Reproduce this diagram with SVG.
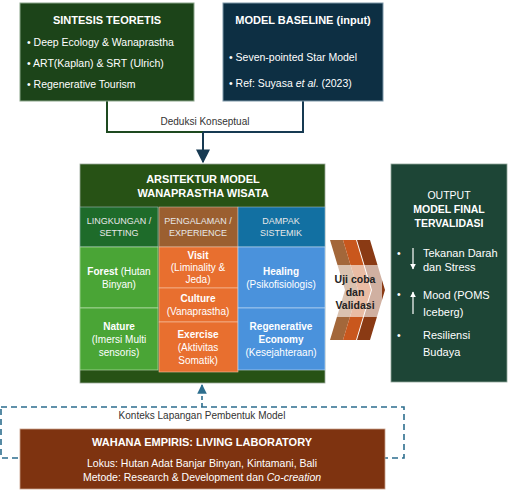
<svg xmlns="http://www.w3.org/2000/svg" width="513" height="490" viewBox="0 0 513 490">
<defs>
<style>
text{font-family:"Liberation Sans",Arial,sans-serif;}
.t{font-size:11px;font-weight:bold;fill:#fff;}
.b{font-size:10.5px;fill:#fff;}
.h{font-size:9px;fill:#e8e8e8;}
.c{font-size:10px;fill:#fff;text-anchor:middle;}
.cb{font-size:10px;fill:#fff;text-anchor:middle;font-weight:bold;}
.lbl{font-size:10px;fill:#333;text-anchor:middle;}
.o{font-size:11px;fill:#fff;}
.u{font-size:10.5px;font-weight:bold;fill:#222;text-anchor:middle;}
</style>
<marker id="ah" viewBox="0 0 10 10" refX="9" refY="5" markerWidth="7" markerHeight="7" orient="auto"><path d="M0,0 L10,5 L0,10 z" fill="#173a52"/></marker>
<marker id="ahd" viewBox="0 0 10 10" refX="9" refY="5" markerWidth="6" markerHeight="6" orient="auto"><path d="M0,0 L10,5 L0,10 z" fill="#2d6e8e"/></marker>
<marker id="wa" viewBox="0 0 10 10" refX="9" refY="5" markerWidth="5" markerHeight="5" orient="auto"><path d="M0,0 L10,5 L0,10 z" fill="#fff"/></marker>
</defs>
<rect width="513" height="490" fill="#fff"/>

<g id="connectors">
<polyline points="107,101 107,132 203,132" fill="none" stroke="#1e4a20" stroke-width="2"/>
<polyline points="203,132 303,132 303,101" fill="none" stroke="#173a52" stroke-width="2"/>
<line x1="203" y1="132" x2="203" y2="162" stroke="#173a52" stroke-width="2" marker-end="url(#ah)"/>
<text class="lbl" x="205" y="125">Deduksi Konseptual</text>
<rect x="1" y="407" width="403" height="51" fill="none" stroke="#2d6e8e" stroke-width="1.6" stroke-dasharray="6,4"/>
<line x1="202" y1="407" x2="202" y2="385" stroke="#2d6e8e" stroke-width="1.6" stroke-dasharray="4,3" marker-end="url(#ahd)"/>
<text class="lbl" x="202" y="419">Konteks Lapangan Pembentuk Model</text>
</g>

<g id="sintesis">
<rect x="20" y="3" width="174" height="98" fill="#1c4419" stroke="#8aa58a" stroke-width="1"/>
<text class="t" x="107" y="24" text-anchor="middle">SINTESIS TEORETIS</text>
<text class="b" x="27" y="46">•  Deep Ecology &amp; Wanaprastha</text>
<text class="b" x="27" y="67">•  ART(Kaplan)  &amp; SRT (Ulrich)</text>
<text class="b" x="27" y="88">•  Regenerative Tourism</text>
</g>

<g id="baseline">
<rect x="223" y="3" width="160" height="98" fill="#0d2f43" stroke="#7d97a8" stroke-width="1"/>
<text class="t" x="303" y="24" text-anchor="middle">MODEL BASELINE (input)</text>
<text class="b" x="229" y="61">•  Seven-pointed Star Model</text>
<text class="b" x="229" y="87">•  Ref: Suyasa <tspan font-style="italic">et al</tspan>. (2023)</text>
</g>

<g id="arsitektur">
<rect x="80" y="164" width="245" height="219" fill="#275215" stroke="#9aa89a" stroke-width="0.8"/>
<text class="t" x="203" y="183" text-anchor="middle">ARSITEKTUR MODEL</text>
<text class="t" x="203" y="197" text-anchor="middle">WANAPRASTHA WISATA</text>
<rect x="80" y="207" width="78" height="40" fill="#1e6b2a" stroke="#bcd" stroke-width="0.5"/>
<rect x="159" y="207" width="79" height="40" fill="#9b5f30" stroke="#dcb" stroke-width="0.5"/>
<rect x="238" y="207" width="87" height="40" fill="#1270a2" stroke="#bcd" stroke-width="0.5"/>
<text class="h" x="119" y="224" text-anchor="middle">LINGKUNGAN /</text>
<text class="h" x="119" y="236" text-anchor="middle">SETTING</text>
<text class="h" x="198" y="224" text-anchor="middle">PENGALAMAN /</text>
<text class="h" x="198" y="236" text-anchor="middle">EXPERIENCE</text>
<text class="h" x="281" y="224" text-anchor="middle">DAMPAK</text>
<text class="h" x="281" y="236" text-anchor="middle">SISTEMIK</text>
</g>

<g id="forest">
<rect x="80" y="247" width="78" height="61" fill="#4aa536" stroke="#c8e6c0" stroke-width="0.6"/>
<text class="c" x="119" y="275"><tspan font-weight="bold">Forest</tspan> (Hutan</text>
<text class="c" x="119" y="288">Binyan)</text>
</g>
<g id="nature">
<rect x="80" y="308" width="78" height="62" fill="#4aa536" stroke="#c8e6c0" stroke-width="0.6"/>
<text class="cb" x="119" y="330">Nature</text>
<text class="c" x="119" y="343">(Imersi Multi</text>
<text class="c" x="119" y="356">sensoris)</text>
</g>
<g id="visit">
<rect x="159" y="247" width="79" height="41" fill="#e86f2f" stroke="#f6c4a6" stroke-width="0.6"/>
<text class="cb" x="198" y="259">Visit</text>
<text class="c" x="198" y="271">(Liminality &amp;</text>
<text class="c" x="198" y="283">Jeda)</text>
</g>
<g id="culture">
<rect x="159" y="288" width="79" height="34" fill="#e86f2f" stroke="#f6c4a6" stroke-width="0.6"/>
<text class="cb" x="198" y="302">Culture</text>
<text class="c" x="198" y="315">(Vanaprastha)</text>
</g>
<g id="exercise">
<rect x="159" y="322" width="79" height="50" fill="#e86f2f" stroke="#f6c4a6" stroke-width="0.6"/>
<text class="cb" x="198" y="338">Exercise</text>
<text class="c" x="198" y="351">(Aktivitas</text>
<text class="c" x="198" y="364">Somatik)</text>
</g>
<g id="healing">
<rect x="238" y="247" width="87" height="61" fill="#4a92dc" stroke="#c6dcf4" stroke-width="0.6"/>
<text class="cb" x="281" y="275">Healing</text>
<text class="c" x="281" y="288">(Psikofisiologis)</text>
</g>
<g id="regenerative">
<rect x="238" y="308" width="87" height="62" fill="#4a92dc" stroke="#c6dcf4" stroke-width="0.6"/>
<text class="cb" x="281" y="330">Regenerative</text>
<text class="cb" x="281" y="343">Economy</text>
<text class="c" x="281" y="356">(Kesejahteraan)</text>
</g>

<g id="ujicoba">
<polygon points="330,240 343,240 358,290 343,340 330,340 345,290" fill="#a3673a"/>
<polygon points="343,240 356,240 371,290 356,340 343,340 358,290" fill="#c9571d"/>
<polygon points="357,240 370,240 385,290 370,340 357,340 372,290" fill="#8a3a14"/>
<rect x="330" y="265" width="52" height="52" fill="#fff" fill-opacity="0.6"/>
<text class="u" x="355" y="283">Uji coba</text>
<text class="u" x="355" y="296">dan</text>
<text class="u" x="355" y="309">Validasi</text>
</g>

<g id="output">
<rect x="391" y="164" width="116" height="218" fill="#1d4536" stroke="#8fa59a" stroke-width="0.8"/>
<text x="449" y="199" font-size="10.5" fill="#fff" text-anchor="middle">OUTPUT</text>
<text x="449" y="213" font-size="10.5" font-weight="bold" fill="#fff" text-anchor="middle">MODEL FINAL</text>
<text x="449" y="227" font-size="10.5" font-weight="bold" fill="#fff" text-anchor="middle">TERVALIDASI</text>
<text class="b" x="397" y="257">•</text>
<line x1="413" y1="248" x2="413" y2="269" stroke="#fff" stroke-width="1.2" marker-end="url(#wa)"/>
<text class="o" x="423" y="257">Tekanan Darah</text>
<text class="o" x="423" y="271">dan Stress</text>
<text class="b" x="397" y="298">•</text>
<line x1="413" y1="314" x2="413" y2="292" stroke="#fff" stroke-width="1.2" marker-end="url(#wa)"/>
<text class="o" x="423" y="299">Mood (POMS</text>
<text class="o" x="423" y="316">Iceberg)</text>
<text class="b" x="397" y="339">•</text>
<text class="o" x="423" y="339">Resiliensi</text>
<text class="o" x="423" y="356">Budaya</text>
</g>

<g id="wahana">
<rect x="20" y="429" width="365" height="60" fill="#7e3310" stroke="#c9a08a" stroke-width="0.8"/>
<text class="t" x="202" y="446" text-anchor="middle">WAHANA EMPIRIS: LIVING LABORATORY</text>
<text x="202" y="467" font-size="10.5" fill="#fff" text-anchor="middle">Lokus: Hutan Adat Banjar Binyan, Kintamani, Bali</text>
<text x="202" y="481" font-size="10.5" fill="#fff" text-anchor="middle">Metode: Research &amp; Development dan <tspan font-style="italic">Co-creation</tspan></text>
</g>
</svg>
